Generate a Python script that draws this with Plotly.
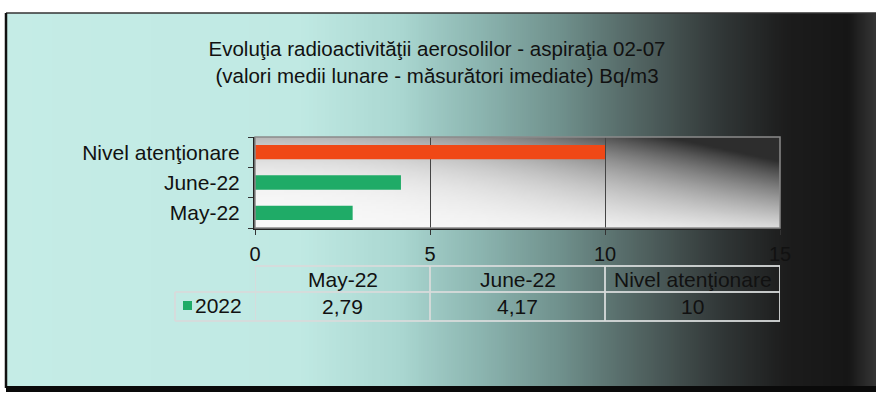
import base64
import struct
import zlib

import plotly.graph_objects as go

categories = ["May-22", "June-22", "Nivel atenţionare"]
values = [2.79, 4.17, 10]
series_name = "2022"
bar_colors = ["#1fab67", "#1fab67", "#f04816"]
x_ticks = [0, 5, 10, 15]

W, H = 876, 403
# plot area in pixels
PL, PR, PT, PB = 255, 780, 137, 228


def px_x(p):
    return (p - PL) / (PR - PL)


def px_y(p):
    return (PB - p) / (PB - PT)


def lerp(stops, p):
    for (a, ca), (b, cb) in zip(stops[:-1], stops[1:]):
        if a <= p <= b:
            t = (p - a) / (b - a)
            return tuple(int(round(ca[k] + (cb[k] - ca[k]) * t)) for k in range(3))
    return stops[-1][1] if p > stops[-1][0] else stops[0][1]


def png_uri(w, h, fn):
    raw = bytearray()
    for j in range(h):
        raw.append(0)
        for i in range(w):
            raw += bytes(fn(i / (w - 1), j / (h - 1)))

    def chunk(tag, data):
        c = struct.pack('>I', len(data)) + tag + data
        return c + struct.pack('>I', zlib.crc32(tag + data) & 0xffffffff)

    png = (b'\x89PNG\r\n\x1a\n'
           + chunk(b'IHDR', struct.pack('>IIBBBBB', w, h, 8, 2, 0, 0, 0))
           + chunk(b'IDAT', zlib.compress(bytes(raw), 9))
           + chunk(b'IEND', b''))
    return 'data:image/png;base64,' + base64.b64encode(png).decode()


# background gradient (cyan -> black)
bg_stops = [(0, (197, 236, 230)), (300, (192, 233, 227)), (400, (170, 215, 209)),
            (480, (140, 181, 176)), (560, (112, 145, 141)), (640, (82, 100, 98)),
            (720, (50, 56, 56)), (790, (28, 28, 28)), (850, (22, 22, 22)),
            (876, (52, 52, 52))]
FX0, FX1, FY0, FY1 = 6, 876, 13, 388
bg_img = png_uri(220, 4, lambda u, v: lerp(bg_stops, FX0 + u * (FX1 - FX0)))


def plot_fill(u, v):
    dark = (u ** 2) * (1 - v) * 0.8 + 0.25 * (1 - v) ** 3 + 0.12 * u ** 3
    dark = min(dark, 0.82)
    c = int(round(248 * (1 - dark)))
    return (c, c, c)


pa_img = png_uri(120, 40, plot_fill)

fig = go.Figure()
fig.add_trace(go.Bar(
    y=categories, x=values, orientation='h', name=series_name,
    marker=dict(color=bar_colors, line=dict(width=0)),
    showlegend=False,
))

shapes = []
# frame
shapes.append(dict(type='line', xref='paper', yref='paper', x0=px_x(FX0), x1=px_x(FX1),
                   y0=px_y(FY0), y1=px_y(FY0), line=dict(color='#333', width=1.5)))
shapes.append(dict(type='line', xref='paper', yref='paper', x0=px_x(FX0), x1=px_x(FX0),
                   y0=px_y(FY0), y1=px_y(FY1), line=dict(color='#111', width=2.5)))
shapes.append(dict(type='rect', xref='paper', yref='paper', x0=px_x(FX0), x1=px_x(FX1),
                   y0=px_y(FY1 - 2), y1=px_y(FY1 + 4), fillcolor='#0a0a0a',
                   line=dict(width=0)))
# plot area border
shapes.append(dict(type='rect', xref='paper', yref='paper', x0=0, x1=1, y0=0, y1=1,
                   line=dict(color='#8a8a8a', width=1.5), layer='above'))

# data table
TT, TM, TB = 266, 292, 321
tcol = 'rgba(215,218,218,0.9)'
for yy in (TT, TM, TB):
    shapes.append(dict(type='line', xref='x', yref='paper', x0=x_ticks[0], x1=x_ticks[-1],
                       y0=px_y(yy), y1=px_y(yy), line=dict(color=tcol, width=2)))
for xv in x_ticks:
    shapes.append(dict(type='line', xref='x', yref='paper', x0=xv, x1=xv,
                       y0=px_y(TT), y1=px_y(TB), line=dict(color=tcol, width=2)))
LEG_X = 175
for yy in (TM, TB):
    shapes.append(dict(type='line', xref='paper', yref='paper', x0=px_x(LEG_X), x1=0,
                       y0=px_y(yy), y1=px_y(yy), line=dict(color=tcol, width=2)))
shapes.append(dict(type='line', xref='paper', yref='paper', x0=px_x(LEG_X), x1=px_x(LEG_X),
                   y0=px_y(TM), y1=px_y(TB), line=dict(color=tcol, width=2)))
# legend key
shapes.append(dict(type='rect', xref='paper', yref='paper', x0=px_x(183), x1=px_x(192),
                   y0=px_y(301), y1=px_y(310), fillcolor=bar_colors[0], line=dict(width=0)))

font = "Liberation Sans, Arial, sans-serif"
FS = 21
annotations = []
step = x_ticks[1] - x_ticks[0]
for i, (cat, val) in enumerate(zip(categories, values)):
    xc = x_ticks[0] + step * (i + 0.5)
    annotations.append(dict(x=xc, xref='x', y=px_y(279), yref='paper', text=cat,
                            xanchor='center', yanchor='middle', showarrow=False,
                            font=dict(size=FS, color='#111', family=font)))
    annotations.append(dict(x=xc, xref='x', y=px_y(306), yref='paper',
                            text=('%g' % val).replace('.', ','),
                            xanchor='center', yanchor='middle', showarrow=False,
                            font=dict(size=FS, color='#111', family=font)))
annotations.append(dict(x=px_x(193), xref='paper', y=px_y(305), yref='paper', text=series_name,
                        xanchor='left', yanchor='middle', showarrow=False,
                        font=dict(size=FS, color='#111', family=font)))

fig.update_layout(
    width=W, height=H,
    margin=dict(l=PL, r=W - PR, t=PT, b=H - PB, pad=0),
    paper_bgcolor='white', plot_bgcolor='rgba(0,0,0,0)',
    font=dict(family=font, color='#111'),
    title=dict(text="Evoluţia radioactivităţii aerosolilor - aspiraţia 02-07<br>"
                    "(valori medii lunare - măsurători imediate) Bq/m3",
               x=437 / W, xanchor='center', xref='container',
               y=1 - 56 / H, yanchor='top', yref='container',
               font=dict(size=20.5, color='#111', family=font)),
    bargap=0.53,
    showlegend=False,
    shapes=shapes,
    annotations=annotations,
    images=[
        dict(source=bg_img, xref='paper', yref='paper', x=px_x(FX0), y=px_y(FY0),
             sizex=px_x(FX1) - px_x(FX0), sizey=px_y(FY0) - px_y(FY1),
             xanchor='left', yanchor='top', sizing='stretch', layer='below'),
        dict(source=pa_img, xref='paper', yref='paper', x=0, y=1, sizex=1, sizey=1,
             xanchor='left', yanchor='top', sizing='stretch', layer='below'),
    ],
)
fig.update_xaxes(range=[x_ticks[0], x_ticks[-1]], tickvals=x_ticks, showgrid=True,
                 gridcolor='#444', gridwidth=1, zeroline=False,
                 showline=True, linecolor='#222', linewidth=2,
                 ticks='outside', ticklen=5, tickcolor='#333',
                 tickfont=dict(size=20, color='#111'), ticklabelstandoff=2)
fig.update_yaxes(categoryorder='array', categoryarray=categories, showgrid=False,
                 showline=True, linecolor='#222', linewidth=2,
                 ticks='outside', ticklen=5, tickcolor='#333', tickson='boundaries',
                 tickfont=dict(size=21, color='#111'), ticklabelstandoff=9)

fig.write_html("out.html", config={'displayModeBar': False},
               post_script="document.body.style.margin='0';")
